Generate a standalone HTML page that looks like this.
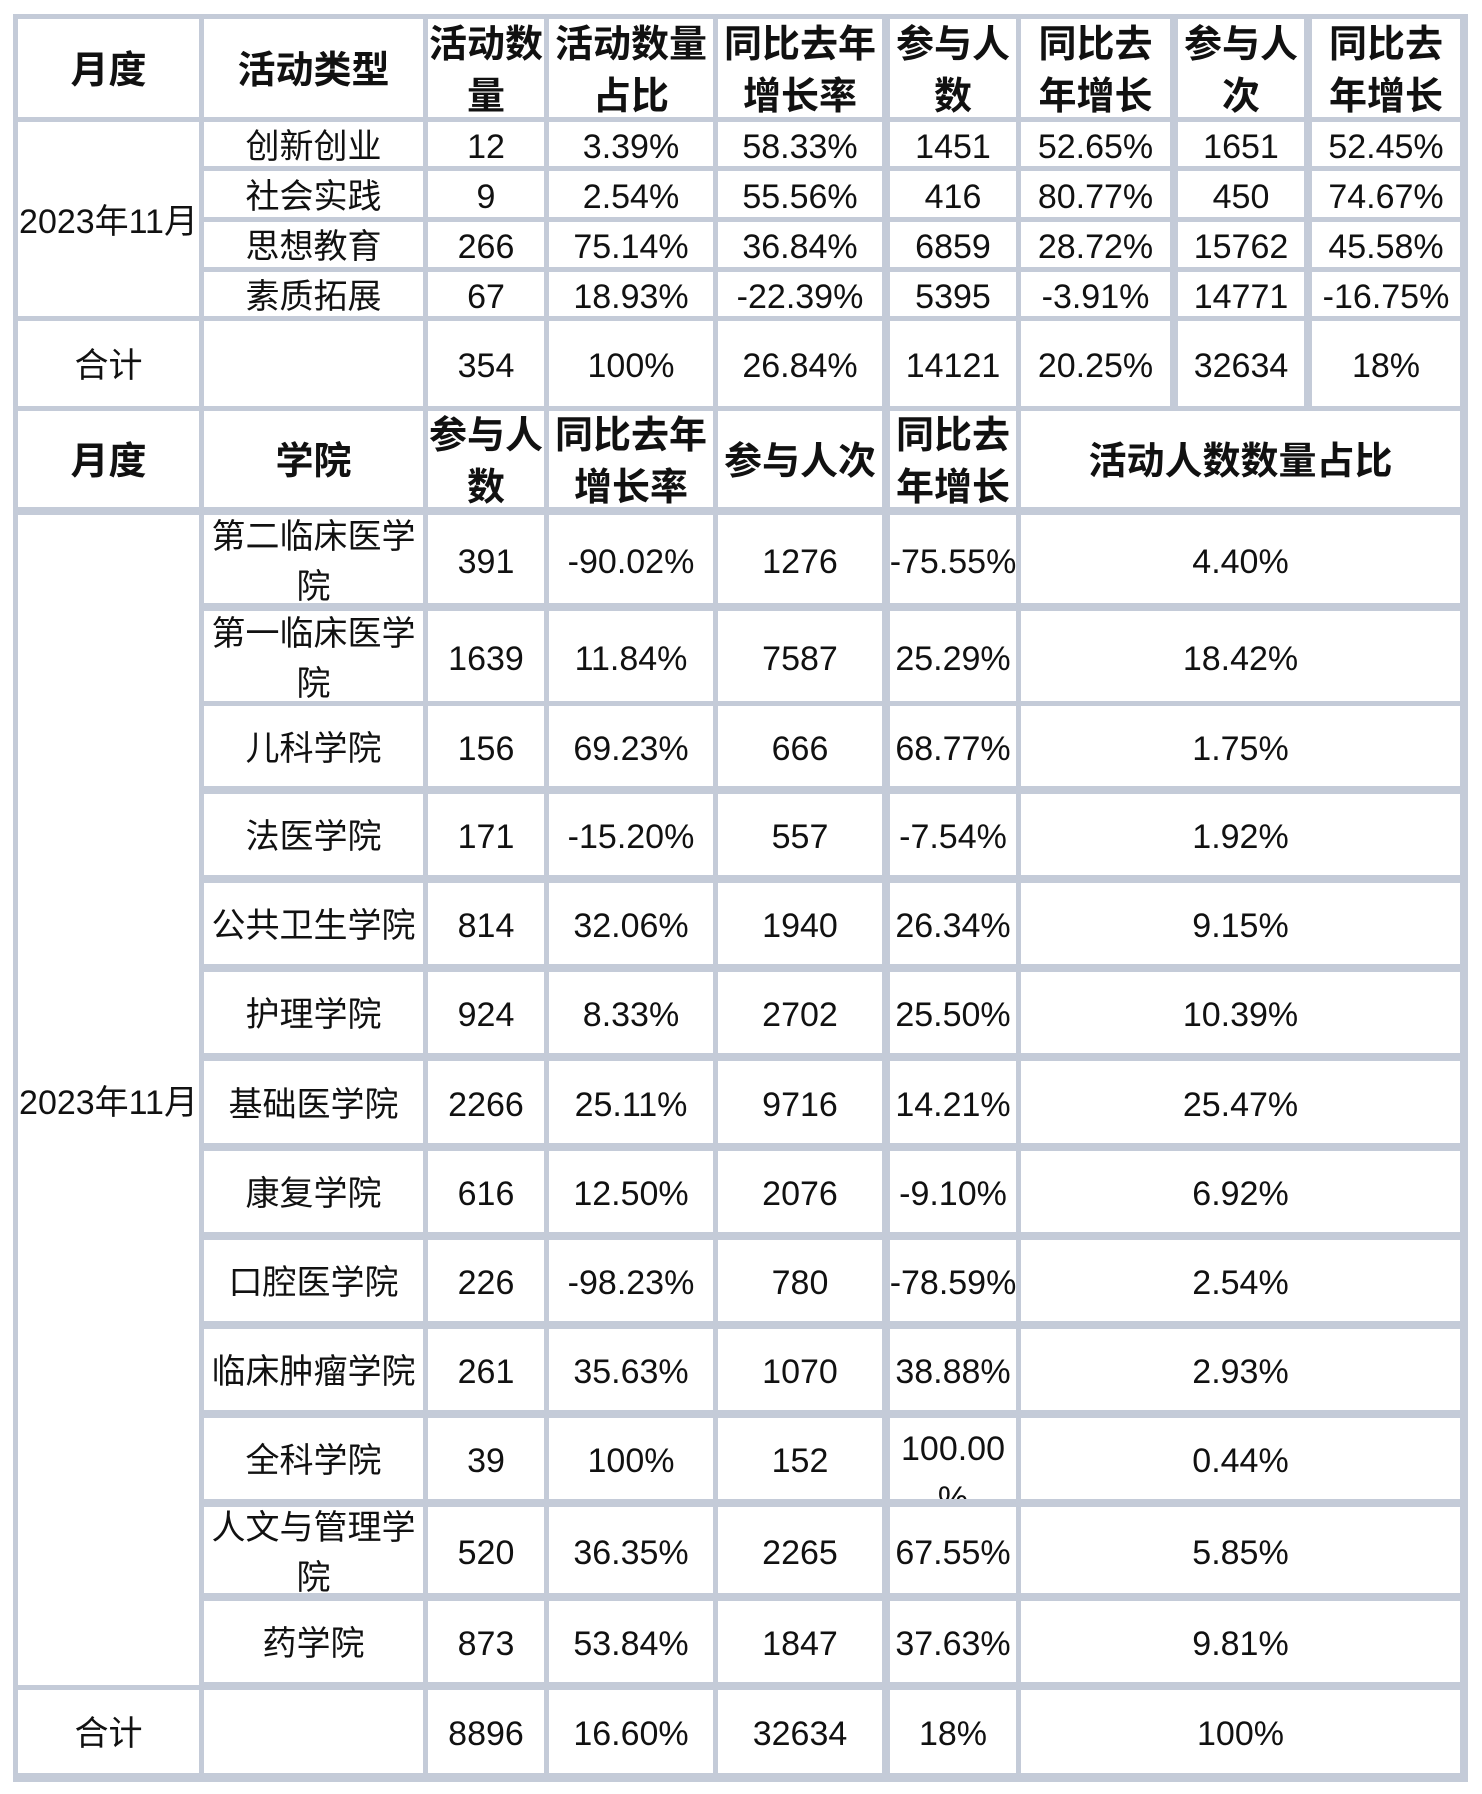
<!DOCTYPE html>
<html><head><meta charset="utf-8"><style>
body{margin:0;width:1482px;height:1794px;background:#fff;position:relative;overflow:hidden;font-family:"Liberation Sans","Noto Sans CJK SC",sans-serif;color:#111}
#g{position:absolute;left:13px;top:14px;width:1455px;height:1768px;background:#c4cbd8}
.c{position:absolute;background:#fff;display:flex;align-items:center;justify-content:center;text-align:center;font-size:34px;line-height:50px;overflow:hidden;box-sizing:border-box;padding-top:5px}
.h{font-weight:bold;font-size:38px;line-height:52px}
</style></head><body>
<div id="g"></div>
<div class="c h" style="left:18px;top:19px;width:181px;height:98px">月度</div>
<div class="c h" style="left:204px;top:19px;width:219px;height:98px">活动类型</div>
<div class="c h" style="left:428px;top:19px;width:116px;height:98px">活动数量</div>
<div class="c h" style="left:549px;top:19px;width:164px;height:98px">活动数量占比</div>
<div class="c h" style="left:718px;top:19px;width:164px;height:98px">同比去年增长率</div>
<div class="c h" style="left:890px;top:19px;width:126px;height:98px">参与人数</div>
<div class="c h" style="left:1021px;top:19px;width:149px;height:98px">同比去<br>年增长</div>
<div class="c h" style="left:1178px;top:19px;width:126px;height:98px">参与人次</div>
<div class="c h" style="left:1312px;top:19px;width:148px;height:98px">同比去<br>年增长</div>
<div class="c" style="left:18px;top:122px;width:181px;height:194px">2023年11月</div>
<div class="c" style="left:204px;top:122px;width:219px;height:44px">创新创业</div>
<div class="c" style="left:428px;top:122px;width:116px;height:44px">12</div>
<div class="c" style="left:549px;top:122px;width:164px;height:44px">3.39%</div>
<div class="c" style="left:718px;top:122px;width:164px;height:44px">58.33%</div>
<div class="c" style="left:890px;top:122px;width:126px;height:44px">1451</div>
<div class="c" style="left:1021px;top:122px;width:149px;height:44px">52.65%</div>
<div class="c" style="left:1178px;top:122px;width:126px;height:44px">1651</div>
<div class="c" style="left:1312px;top:122px;width:148px;height:44px">52.45%</div>
<div class="c" style="left:204px;top:171px;width:219px;height:46px">社会实践</div>
<div class="c" style="left:428px;top:171px;width:116px;height:46px">9</div>
<div class="c" style="left:549px;top:171px;width:164px;height:46px">2.54%</div>
<div class="c" style="left:718px;top:171px;width:164px;height:46px">55.56%</div>
<div class="c" style="left:890px;top:171px;width:126px;height:46px">416</div>
<div class="c" style="left:1021px;top:171px;width:149px;height:46px">80.77%</div>
<div class="c" style="left:1178px;top:171px;width:126px;height:46px">450</div>
<div class="c" style="left:1312px;top:171px;width:148px;height:46px">74.67%</div>
<div class="c" style="left:204px;top:222px;width:219px;height:45px">思想教育</div>
<div class="c" style="left:428px;top:222px;width:116px;height:45px">266</div>
<div class="c" style="left:549px;top:222px;width:164px;height:45px">75.14%</div>
<div class="c" style="left:718px;top:222px;width:164px;height:45px">36.84%</div>
<div class="c" style="left:890px;top:222px;width:126px;height:45px">6859</div>
<div class="c" style="left:1021px;top:222px;width:149px;height:45px">28.72%</div>
<div class="c" style="left:1178px;top:222px;width:126px;height:45px">15762</div>
<div class="c" style="left:1312px;top:222px;width:148px;height:45px">45.58%</div>
<div class="c" style="left:204px;top:272px;width:219px;height:44px">素质拓展</div>
<div class="c" style="left:428px;top:272px;width:116px;height:44px">67</div>
<div class="c" style="left:549px;top:272px;width:164px;height:44px">18.93%</div>
<div class="c" style="left:718px;top:272px;width:164px;height:44px">-22.39%</div>
<div class="c" style="left:890px;top:272px;width:126px;height:44px">5395</div>
<div class="c" style="left:1021px;top:272px;width:149px;height:44px">-3.91%</div>
<div class="c" style="left:1178px;top:272px;width:126px;height:44px">14771</div>
<div class="c" style="left:1312px;top:272px;width:148px;height:44px">-16.75%</div>
<div class="c" style="left:18px;top:321px;width:181px;height:85px">合计</div>
<div class="c" style="left:204px;top:321px;width:219px;height:85px"></div>
<div class="c" style="left:428px;top:321px;width:116px;height:85px">354</div>
<div class="c" style="left:549px;top:321px;width:164px;height:85px">100%</div>
<div class="c" style="left:718px;top:321px;width:164px;height:85px">26.84%</div>
<div class="c" style="left:890px;top:321px;width:126px;height:85px">14121</div>
<div class="c" style="left:1021px;top:321px;width:149px;height:85px">20.25%</div>
<div class="c" style="left:1178px;top:321px;width:126px;height:85px">32634</div>
<div class="c" style="left:1312px;top:321px;width:148px;height:85px">18%</div>
<div class="c h" style="left:18px;top:411px;width:181px;height:96px">月度</div>
<div class="c h" style="left:204px;top:411px;width:219px;height:96px">学院</div>
<div class="c h" style="left:428px;top:411px;width:116px;height:96px">参与人数</div>
<div class="c h" style="left:549px;top:411px;width:164px;height:96px">同比去年增长率</div>
<div class="c h" style="left:718px;top:411px;width:164px;height:96px">参与人次</div>
<div class="c h" style="left:890px;top:411px;width:126px;height:96px">同比去年增长</div>
<div class="c h" style="left:1021px;top:411px;width:439px;height:96px">活动人数数量占比</div>
<div class="c" style="left:18px;top:515px;width:181px;height:1170px">2023年11月</div>
<div class="c" style="left:204px;top:515px;width:219px;height:88px">第二临床医学院</div>
<div class="c" style="left:428px;top:515px;width:116px;height:88px">391</div>
<div class="c" style="left:549px;top:515px;width:164px;height:88px">-90.02%</div>
<div class="c" style="left:718px;top:515px;width:164px;height:88px">1276</div>
<div class="c" style="left:890px;top:515px;width:126px;height:88px">-75.55%</div>
<div class="c" style="left:1021px;top:515px;width:439px;height:88px">4.40%</div>
<div class="c" style="left:204px;top:611px;width:219px;height:90px">第一临床医学院</div>
<div class="c" style="left:428px;top:611px;width:116px;height:90px">1639</div>
<div class="c" style="left:549px;top:611px;width:164px;height:90px">11.84%</div>
<div class="c" style="left:718px;top:611px;width:164px;height:90px">7587</div>
<div class="c" style="left:890px;top:611px;width:126px;height:90px">25.29%</div>
<div class="c" style="left:1021px;top:611px;width:439px;height:90px">18.42%</div>
<div class="c" style="left:204px;top:706px;width:219px;height:80px">儿科学院</div>
<div class="c" style="left:428px;top:706px;width:116px;height:80px">156</div>
<div class="c" style="left:549px;top:706px;width:164px;height:80px">69.23%</div>
<div class="c" style="left:718px;top:706px;width:164px;height:80px">666</div>
<div class="c" style="left:890px;top:706px;width:126px;height:80px">68.77%</div>
<div class="c" style="left:1021px;top:706px;width:439px;height:80px">1.75%</div>
<div class="c" style="left:204px;top:794px;width:219px;height:81px">法医学院</div>
<div class="c" style="left:428px;top:794px;width:116px;height:81px">171</div>
<div class="c" style="left:549px;top:794px;width:164px;height:81px">-15.20%</div>
<div class="c" style="left:718px;top:794px;width:164px;height:81px">557</div>
<div class="c" style="left:890px;top:794px;width:126px;height:81px">-7.54%</div>
<div class="c" style="left:1021px;top:794px;width:439px;height:81px">1.92%</div>
<div class="c" style="left:204px;top:883px;width:219px;height:81px">公共卫生学院</div>
<div class="c" style="left:428px;top:883px;width:116px;height:81px">814</div>
<div class="c" style="left:549px;top:883px;width:164px;height:81px">32.06%</div>
<div class="c" style="left:718px;top:883px;width:164px;height:81px">1940</div>
<div class="c" style="left:890px;top:883px;width:126px;height:81px">26.34%</div>
<div class="c" style="left:1021px;top:883px;width:439px;height:81px">9.15%</div>
<div class="c" style="left:204px;top:972px;width:219px;height:81px">护理学院</div>
<div class="c" style="left:428px;top:972px;width:116px;height:81px">924</div>
<div class="c" style="left:549px;top:972px;width:164px;height:81px">8.33%</div>
<div class="c" style="left:718px;top:972px;width:164px;height:81px">2702</div>
<div class="c" style="left:890px;top:972px;width:126px;height:81px">25.50%</div>
<div class="c" style="left:1021px;top:972px;width:439px;height:81px">10.39%</div>
<div class="c" style="left:204px;top:1061px;width:219px;height:82px">基础医学院</div>
<div class="c" style="left:428px;top:1061px;width:116px;height:82px">2266</div>
<div class="c" style="left:549px;top:1061px;width:164px;height:82px">25.11%</div>
<div class="c" style="left:718px;top:1061px;width:164px;height:82px">9716</div>
<div class="c" style="left:890px;top:1061px;width:126px;height:82px">14.21%</div>
<div class="c" style="left:1021px;top:1061px;width:439px;height:82px">25.47%</div>
<div class="c" style="left:204px;top:1151px;width:219px;height:81px">康复学院</div>
<div class="c" style="left:428px;top:1151px;width:116px;height:81px">616</div>
<div class="c" style="left:549px;top:1151px;width:164px;height:81px">12.50%</div>
<div class="c" style="left:718px;top:1151px;width:164px;height:81px">2076</div>
<div class="c" style="left:890px;top:1151px;width:126px;height:81px">-9.10%</div>
<div class="c" style="left:1021px;top:1151px;width:439px;height:81px">6.92%</div>
<div class="c" style="left:204px;top:1240px;width:219px;height:81px">口腔医学院</div>
<div class="c" style="left:428px;top:1240px;width:116px;height:81px">226</div>
<div class="c" style="left:549px;top:1240px;width:164px;height:81px">-98.23%</div>
<div class="c" style="left:718px;top:1240px;width:164px;height:81px">780</div>
<div class="c" style="left:890px;top:1240px;width:126px;height:81px">-78.59%</div>
<div class="c" style="left:1021px;top:1240px;width:439px;height:81px">2.54%</div>
<div class="c" style="left:204px;top:1329px;width:219px;height:81px">临床肿瘤学院</div>
<div class="c" style="left:428px;top:1329px;width:116px;height:81px">261</div>
<div class="c" style="left:549px;top:1329px;width:164px;height:81px">35.63%</div>
<div class="c" style="left:718px;top:1329px;width:164px;height:81px">1070</div>
<div class="c" style="left:890px;top:1329px;width:126px;height:81px">38.88%</div>
<div class="c" style="left:1021px;top:1329px;width:439px;height:81px">2.93%</div>
<div class="c" style="left:204px;top:1418px;width:219px;height:81px">全科学院</div>
<div class="c" style="left:428px;top:1418px;width:116px;height:81px">39</div>
<div class="c" style="left:549px;top:1418px;width:164px;height:81px">100%</div>
<div class="c" style="left:718px;top:1418px;width:164px;height:81px">152</div>
<div class="c" style="left:890px;top:1418px;width:126px;height:81px;align-items:flex-start;padding-top:6px">100.00<br>%</div>
<div class="c" style="left:1021px;top:1418px;width:439px;height:81px">0.44%</div>
<div class="c" style="left:204px;top:1507px;width:219px;height:86px">人文与管理学院</div>
<div class="c" style="left:428px;top:1507px;width:116px;height:86px">520</div>
<div class="c" style="left:549px;top:1507px;width:164px;height:86px">36.35%</div>
<div class="c" style="left:718px;top:1507px;width:164px;height:86px">2265</div>
<div class="c" style="left:890px;top:1507px;width:126px;height:86px">67.55%</div>
<div class="c" style="left:1021px;top:1507px;width:439px;height:86px">5.85%</div>
<div class="c" style="left:204px;top:1601px;width:219px;height:81px">药学院</div>
<div class="c" style="left:428px;top:1601px;width:116px;height:81px">873</div>
<div class="c" style="left:549px;top:1601px;width:164px;height:81px">53.84%</div>
<div class="c" style="left:718px;top:1601px;width:164px;height:81px">1847</div>
<div class="c" style="left:890px;top:1601px;width:126px;height:81px">37.63%</div>
<div class="c" style="left:1021px;top:1601px;width:439px;height:81px">9.81%</div>
<div class="c" style="left:18px;top:1690px;width:181px;height:83px">合计</div>
<div class="c" style="left:204px;top:1690px;width:219px;height:83px"></div>
<div class="c" style="left:428px;top:1690px;width:116px;height:83px">8896</div>
<div class="c" style="left:549px;top:1690px;width:164px;height:83px">16.60%</div>
<div class="c" style="left:718px;top:1690px;width:164px;height:83px">32634</div>
<div class="c" style="left:890px;top:1690px;width:126px;height:83px">18%</div>
<div class="c" style="left:1021px;top:1690px;width:439px;height:83px">100%</div>
</body></html>
